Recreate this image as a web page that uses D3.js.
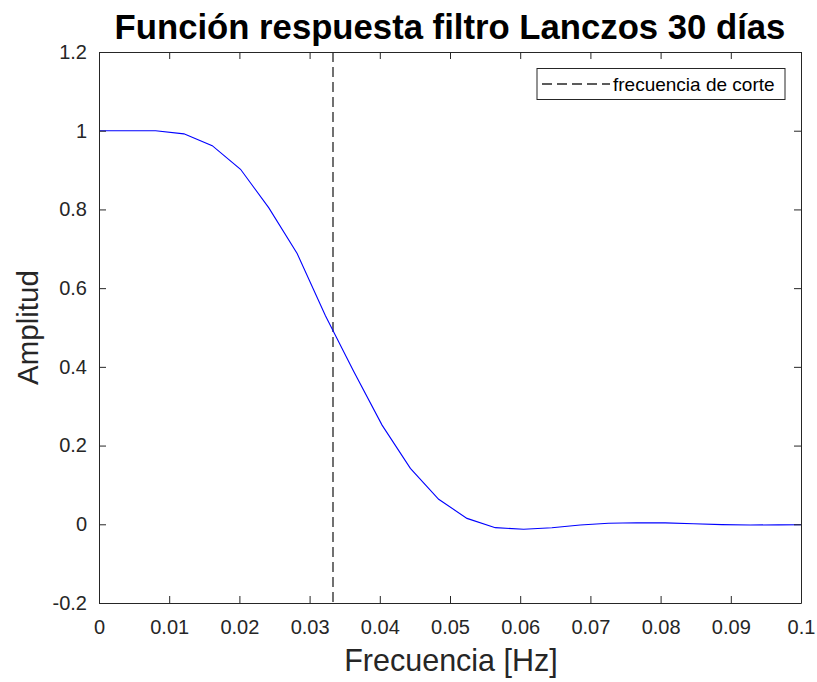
<!DOCTYPE html>
<html>
<head>
<meta charset="utf-8">
<script src="https://cdn.jsdelivr.net/npm/d3@7"></script>
<style>
  html, body { margin: 0; padding: 0; background: #fff; }
  svg { display: block; font-family: "Liberation Sans", Arial, Helvetica, sans-serif; }
</style>
</head>
<body>
<svg id="chart" width="817" height="682"></svg>
<script>
// ---- data ----
const title = "Función respuesta filtro Lanczos 30 días";
const xLabel = "Frecuencia [Hz]";
const yLabel = "Amplitud";
const legendLabel = "frecuencia de corte";
const cutoff = 1 / 30;
// frequencies sampled every 0.5/124 Hz
const freqs = [0, 0.004032, 0.008065, 0.012097, 0.016129, 0.020161, 0.024194, 0.028226,
  0.032258, 0.036290, 0.040323, 0.044355, 0.048387, 0.052419, 0.056452, 0.060484,
  0.064516, 0.068548, 0.072581, 0.076613, 0.080645, 0.084677, 0.088710, 0.092742,
  0.096774, 0.100806];
const amplitude = [1.0, 1.0, 1.0, 0.992, 0.962, 0.902, 0.804, 0.688,
  0.530, 0.388, 0.252, 0.142, 0.0635, 0.015, -0.0086, -0.0127,
  -0.0088, -0.0018, 0.0028, 0.004, 0.0035, 0.0012, -0.0008, -0.0018,
  -0.0014, -0.001];
const xTicks = [0, 0.01, 0.02, 0.03, 0.04, 0.05, 0.06, 0.07, 0.08, 0.09, 0.1];
const yTicks = [-0.2, 0, 0.2, 0.4, 0.6, 0.8, 1, 1.2];

// ---- layout ----
const svg = d3.select("#chart");
const mLeft = 99, mRight = 801, mTop = 52, mBottom = 603;
const axisColor = "#262626";

const x = d3.scaleLinear().domain([0, 0.1]).range([mLeft, mRight]);
const y = d3.scaleLinear().domain([-0.2, 1.2]).range([mBottom, mTop]);

const fmt = d => (d === 0 ? "0" : String(+d.toFixed(2)));

// clip
svg.append("defs").append("clipPath").attr("id", "clip")
  .append("rect").attr("x", mLeft).attr("y", mTop).attr("width", mRight - mLeft).attr("height", mBottom - mTop);

// cutoff dashed line
svg.append("line")
  .attr("x1", x(cutoff)).attr("x2", x(cutoff))
  .attr("y1", y(1.2)).attr("y2", y(-0.2))
  .attr("stroke", "#262626").attr("stroke-width", 1.3)
  .attr("stroke-dasharray", "10,5");

// response curve
svg.append("path")
  .datum(freqs.map((f, i) => [f, amplitude[i]]))
  .attr("clip-path", "url(#clip)")
  .attr("fill", "none")
  .attr("stroke", "#0000ff")
  .attr("stroke-width", 1.1)
  .attr("d", d3.line().x(d => x(d[0])).y(d => y(d[1])));

// axes
const tickLen = 7;
const bottomAxis = d3.axisBottom(x).tickValues(xTicks).tickFormat(fmt).tickSizeInner(-tickLen).tickSizeOuter(0).tickPadding(17);
const leftAxis = d3.axisLeft(y).tickValues(yTicks).tickFormat(fmt).tickSizeInner(-tickLen).tickSizeOuter(0).tickPadding(12);
const topAxis = d3.axisTop(x).tickValues(xTicks).tickFormat("").tickSizeInner(-tickLen).tickSizeOuter(0);
const rightAxis = d3.axisRight(y).tickValues(yTicks).tickFormat("").tickSizeInner(-tickLen).tickSizeOuter(0);

function style(g) {
  g.select(".domain").attr("stroke", axisColor).attr("stroke-width", 1);
  g.selectAll(".tick line").attr("stroke", axisColor).attr("stroke-width", 1);
  g.selectAll(".tick text").attr("fill", axisColor).style("font-size", "20px")
    .style("font-family", '"Liberation Sans", Arial, sans-serif');
}
svg.append("g").attr("transform", `translate(0,${mBottom})`).call(bottomAxis).call(style);
svg.append("g").attr("transform", `translate(${mLeft},0)`).call(leftAxis).call(style);
svg.append("g").attr("transform", `translate(0,${mTop})`).call(topAxis).call(style);
svg.append("g").attr("transform", `translate(${mRight},0)`).call(rightAxis).call(style);

// title
svg.append("text")
  .attr("x", (mLeft + mRight) / 2).attr("y", 39)
  .attr("text-anchor", "middle")
  .style("font-size", "34.7px").style("font-weight", "bold").attr("fill", "#000")
  .text(title);

// x label
svg.append("text")
  .attr("x", (mLeft + mRight) / 2 + 1).attr("y", 671)
  .attr("text-anchor", "middle")
  .style("font-size", "30.5px").attr("fill", axisColor)
  .text(xLabel);

// y label
svg.append("text")
  .attr("transform", `translate(38,${(mTop + mBottom) / 2}) rotate(-90)`)
  .attr("text-anchor", "middle")
  .style("font-size", "29.5px").attr("fill", axisColor)
  .text(yLabel);

// legend
const lg = svg.append("g");
lg.append("rect").attr("x", 537).attr("y", 68.5).attr("width", 248).attr("height", 31)
  .attr("fill", "#fff").attr("stroke", axisColor).attr("stroke-width", 1);
lg.append("line").attr("x1", 542).attr("x2", 610).attr("y1", 84).attr("y2", 84)
  .attr("stroke", "#262626").attr("stroke-width", 1.3).attr("stroke-dasharray", "10,5");
lg.append("text").attr("x", 613).attr("y", 91)
  .style("font-size", "19px").attr("fill", "#000").text(legendLabel);
</script>
</body>
</html>
